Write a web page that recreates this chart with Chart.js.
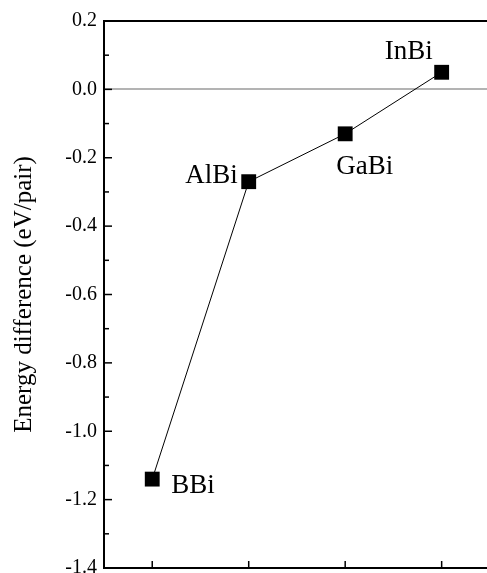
<!DOCTYPE html>
<html><head><meta charset="utf-8">
<script src="https://cdn.jsdelivr.net/npm/chart.js@4/dist/chart.umd.min.js"></script>
<style>html,body{margin:0;padding:0;background:#fff;overflow:hidden}</style>
</head><body>
<canvas id="c" width="487" height="573"></canvas>
<script>
// ---- data ----
const categories = ['BBi', 'AlBi', 'GaBi', 'InBi'];
const categoryPositions = [1, 2, 3, 4];
const energyDiff = [-1.14, -0.27, -0.13, 0.05];
const yTickValues = [-1.4, -1.2, -1.0, -0.8, -0.6, -0.4, -0.2, 0.0, 0.2];
const yMinorTickValues = [-1.3, -1.1, -0.9, -0.7, -0.5, -0.3, -0.1, 0.1];
const referenceLineValue = 0;
const yTitle = 'Energy difference (eV/pair)';

// ---- styling / placement (not data) ----
const SERIF = '"Liberation Serif", "Times New Roman", serif';
const labelPlacement = {
  BBi:  { dx: 19,  dy: 14, align: 'left' },
  AlBi: { dx: -11, dy: 1,  align: 'right' },
  GaBi: { dx: -9,  dy: 40, align: 'left' },
  InBi: { dx: -9,  dy: -13, align: 'right' }
};

const decorPlugin = {
  id: 'decor',
  beforeDatasetsDraw(chart) {
    const {ctx, chartArea: a, scales: {y}} = chart;
    const py = Math.round(y.getPixelForValue(referenceLineValue));
    ctx.save();
    ctx.strokeStyle = '#9a9a9a';
    ctx.lineWidth = 1.5;
    ctx.beginPath(); ctx.moveTo(a.left, py); ctx.lineTo(a.right, py); ctx.stroke();
    ctx.restore();
  },
  afterDatasetsDraw(chart) {
    const {ctx, chartArea: a, scales: {x, y}} = chart;
    ctx.save();
    ctx.strokeStyle = '#000';
    ctx.lineWidth = 2;
    ctx.beginPath();
    ctx.moveTo(a.right + 2, a.top); ctx.lineTo(a.left, a.top);
    ctx.lineTo(a.left, a.bottom); ctx.lineTo(a.right + 2, a.bottom);
    ctx.stroke();
    ctx.lineWidth = 1.5;
    yTickValues.forEach(v => {
      const p = y.getPixelForValue(v);
      ctx.beginPath(); ctx.moveTo(a.left, p); ctx.lineTo(a.left + 8, p); ctx.stroke();
    });
    yMinorTickValues.forEach(v => {
      const p = y.getPixelForValue(v);
      ctx.beginPath(); ctx.moveTo(a.left, p); ctx.lineTo(a.left + 5, p); ctx.stroke();
    });
    categoryPositions.forEach(v => {
      const p = x.getPixelForValue(v);
      ctx.beginPath(); ctx.moveTo(p, a.bottom); ctx.lineTo(p, a.bottom - 7); ctx.stroke();
    });
    ctx.fillStyle = '#000';
    ctx.font = '27px ' + SERIF;
    ctx.textBaseline = 'alphabetic';
    categories.forEach((name, i) => {
      const px = x.getPixelForValue(categoryPositions[i]);
      const pyv = y.getPixelForValue(energyDiff[i]);
      const pl = labelPlacement[name];
      ctx.textAlign = pl.align;
      ctx.fillText(name, px + pl.dx, pyv + pl.dy);
    });
    ctx.restore();
  }
};

function zeroPad(s) { s.paddingTop = 0; s.paddingBottom = 0; s.paddingLeft = 0; s.paddingRight = 0; }

new Chart(document.getElementById('c'), {
  type: 'line',
  data: {
    datasets: [{
      data: categoryPositions.map((xv, i) => ({x: xv, y: energyDiff[i]})),
      borderColor: '#000',
      borderWidth: 1,
      pointStyle: 'rect',
      pointRadius: 10.5,
      pointBackgroundColor: '#000',
      pointBorderColor: '#000',
      pointBorderWidth: 0,
      tension: 0,
      clip: false
    }]
  },
  options: {
    responsive: false,
    animation: false,
    devicePixelRatio: 1,
    layout: { autoPadding: false, padding: { top: 21, right: 0, bottom: 0, left: 0 } },
    plugins: { legend: { display: false }, tooltip: { enabled: false } },
    scales: {
      x: {
        type: 'linear', min: 0.5, max: 4.47,
        grid: { display: false, drawTicks: false },
        border: { display: false },
        ticks: { display: false },
        afterFit(s) { s.height = 5; zeroPad(s); }
      },
      y: {
        type: 'linear', min: -1.4, max: 0.2,
        afterBuildTicks(s) { s.ticks = yTickValues.map(v => ({value: v})); },
        grid: { display: false, drawTicks: false },
        border: { display: false },
        ticks: {
          color: '#000', padding: 7,
          font: { family: SERIF, size: 20 },
          callback: v => v.toFixed(1)
        },
        title: {
          display: true, text: yTitle, color: '#000',
          font: { family: SERIF, size: 25 },
          padding: { top: 9, bottom: 0 }
        },
        afterFit(s) { s.width = 104; zeroPad(s); }
      }
    }
  },
  plugins: [decorPlugin]
});
</script>
</body></html>
